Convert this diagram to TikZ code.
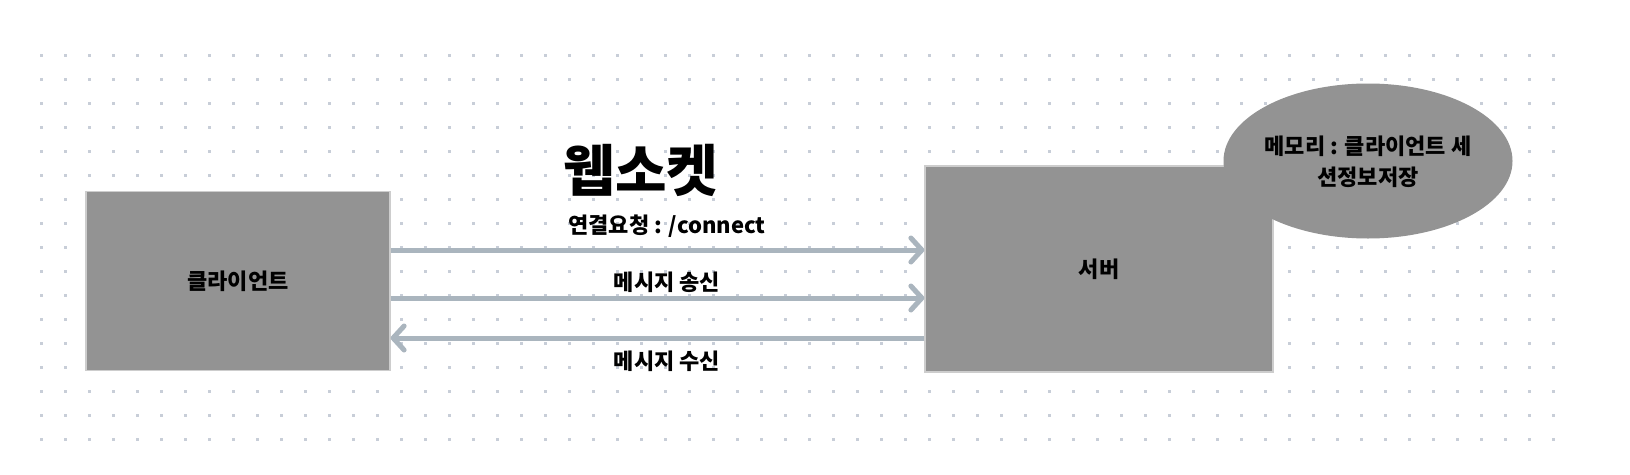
\documentclass[tikz,border=0pt]{standalone}
\usepackage{fontspec}
\newfontfamily\krfont{Noto Sans CJK KR}
\usetikzlibrary{
		arrows.meta,
		shapes.geometric
	}
\definecolor{boxgray}{RGB}{147,147,147}
\definecolor{boxedge}{RGB}{205,205,205}
\definecolor{flowgray}{RGB}{170,181,190}
\definecolor{dotgray}{RGB}{200,206,216}
\tikzset{
		box/.style={fill=boxgray, draw=boxedge, line width=1.2pt, inner sep=0pt},
		flow/.style={flowgray, line width=5pt, -{Straight Barb[length=11pt,width=24pt,round]}},
		lbl/.style={font=\krfont\bfseries\fontsize{22}{31}\selectfont, align=center}
	}

\begin{document}
\begin{tikzpicture}[x=1pt, y=-1pt]
            \useasboundingbox (0,0) rectangle (1630,474);
            \fill[white] (0,0) rectangle (1630,474);
            % dot grid
            \foreach \i in {0,...,63}
            \foreach \j in {0,...,16}
            \fill[dotgray] (41+24*\i-1.5, 55+24*\j-1.5) rectangle +(3,3);

            \node[box, minimum width=304pt, minimum height=179pt] (client) at (238,281) {};
            \node[box, minimum width=348pt, minimum height=206pt] (server) at (1099,269) {};
            \node[ellipse, fill=boxgray, minimum width=289pt, minimum height=155pt, inner sep=0pt] (memory) at (1368,161) {};

            \node[lbl] (clientlbl) at (client.center) {클라이언트};
            \node[lbl] (serverlbl) at (server.center) {서버};
            \node[lbl] (memorylbl) at (1368,162) {메모리 : 클라이언트 세\\션정보저장};

            \node[font=\krfont\bfseries\fontsize{56}{60}\selectfont] (title) at (641,170) {웹소켓};

            \coordinate (r1) at (0,250);
            \coordinate (r2) at (0,298);
            \coordinate (r3) at (0,338);
            \draw[flow] (client.east |- r1) -- (server.west |- r1);
            \draw[flow] (client.east |- r2) -- (server.west |- r2);
            \draw[flow] (server.west |- r3) -- (client.east |- r3);

            \node[lbl] (connlbl) at (667,226) {연결요청 : /connect};
            \node[lbl] (sendlbl) at (667,282) {메시지 송신};
            \node[lbl] (recvlbl) at (667,361) {메시지 수신};

        \end{tikzpicture}
\end{document}
